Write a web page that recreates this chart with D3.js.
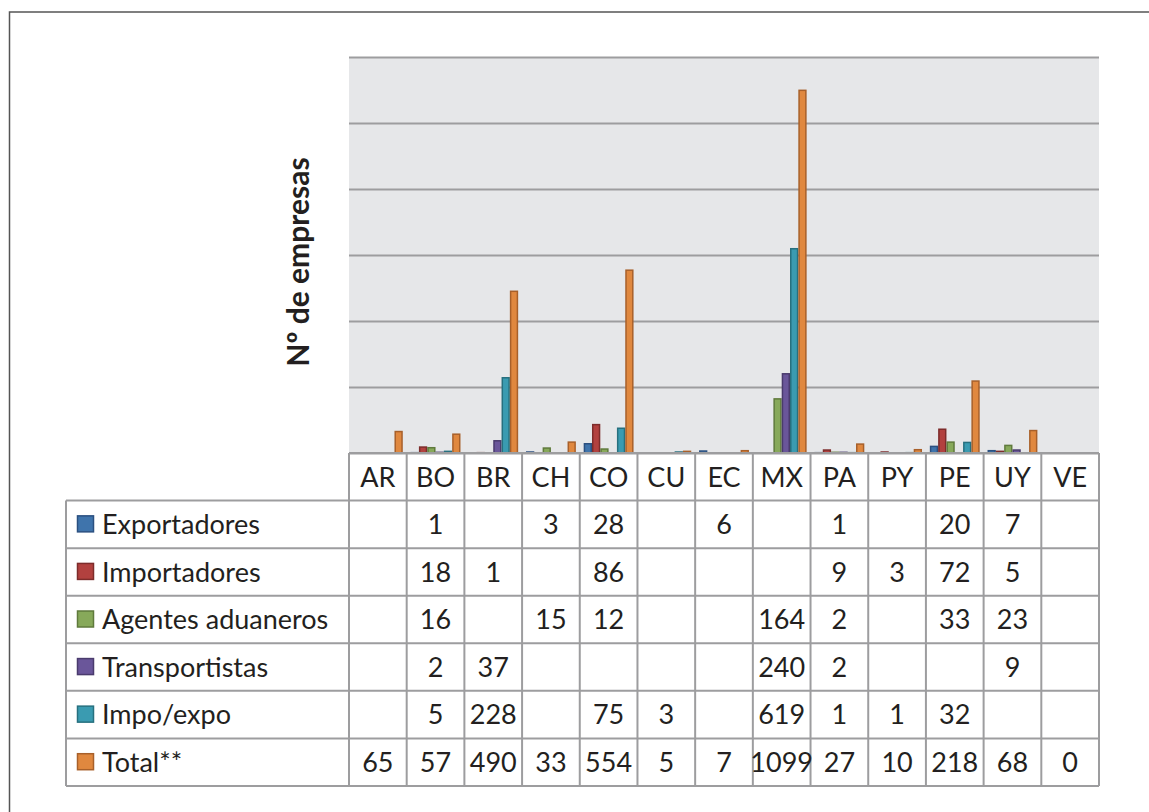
<!DOCTYPE html>
<html lang="es">
    <head>
        <meta charset="utf-8">
        <title>Nº de empresas por país</title>
        <script type="text/javascript" src="https://cdn.jsdelivr.net/npm/d3@7"></script>
        <style type="text/css">
            body { margin: 0; background: #fff; }
            text { font-family: Lato, "Open Sans", sans-serif; fill: #231f20; }
        </style>
    </head>

    <body>
        <script type="text/javascript">
            // Data (null = empty cell)
            var paises = ["AR", "BO", "BR", "CH", "CO", "CU", "EC", "MX", "PA", "PY", "PE", "UY", "VE"];
            var series = ["Exportadores", "Importadores", "Agentes aduaneros", "Transportistas", "Impo/expo", "Total**"];
            var exportadores   = [null, 1, null, 3, 28, null, 6, null, 1, null, 20, 7, null];
            var importadores   = [null, 18, 1, null, 86, null, null, null, 9, 3, 72, 5, null];
            var agentes        = [null, 16, null, 15, 12, null, null, 164, 2, null, 33, 23, null];
            var transportistas = [null, 2, 37, null, null, null, null, 240, 2, null, null, 9, null];
            var impoExpo       = [null, 5, 228, null, 75, 3, null, 619, 1, 1, 32, null, null];
            var total          = [65, 57, 490, 33, 554, 5, 7, 1099, 27, 10, 218, 68, 0];
            var yTicks = [0, 200, 400, 600, 800, 1000, 1200];

            var valores = [exportadores, importadores, agentes, transportistas, impoExpo, total];
            var fills   = ["#3f74ac", "#b2413f", "#87a95a", "#6a569a", "#3a9bb1", "#e0883f"];
            var strokes = ["#2b5080", "#7d2c2b", "#5f7a3c", "#4a3b6d", "#27707f", "#a8602a"];

            var w = 1149;
            var h = 812;
            var plotLeft = 349, plotRight = 1099, plotTop = 57, plotBottom = 453;
            var tableLeft = 66, tableBottom = 786;
            var lineColor = "#9d9d9f";
            var fontSize = "27px";

            var svg = d3.select("body")
                    .append("svg")
                    .attr("width", w)
                    .attr("height", h);

            // outer frame (runs off the right and bottom edges)
            svg.append("rect")
                .attr("x", 9.5).attr("y", 12)
                .attr("width", w + 20).attr("height", h + 20)
                .attr("fill", "none")
                .attr("stroke", "#555")
                .attr("stroke-width", 1.5);

            // Scales
            var x0 = d3.scaleBand()
                        .domain(paises)
                        .range([plotLeft, plotRight]);
            var x1 = d3.scaleBand()
                        .domain(series)
                        .range([0, x0.bandwidth()])
                        .paddingInner(0)
                        .paddingOuter(0.47);
            var y = d3.scaleLinear()
                        .domain([0, 1200])
                        .range([plotBottom, plotTop]);
            var rows = d3.scaleBand()
                        .domain(["header"].concat(series))
                        .range([plotBottom, tableBottom]);

            // plot area background
            svg.append("rect")
                .attr("x", plotLeft).attr("y", plotTop)
                .attr("width", plotRight - plotLeft).attr("height", plotBottom - plotTop)
                .attr("fill", "#e6e7e9");

            // gridlines, no tick labels
            var grid = svg.append("g")
                .attr("transform", "translate(" + plotLeft + ",0)")
                .call(d3.axisLeft(y).tickValues(yTicks).tickSize(-(plotRight - plotLeft)).tickFormat(""));
            grid.select(".domain").remove();
            grid.selectAll("line").attr("stroke", lineColor).attr("stroke-width", 2);

            // bars
            series.forEach(function(s, i) {
                var pts = paises.map(function(p, j) { return { pais: p, v: valores[i][j] }; })
                                .filter(function(d) { return d.v !== null && d.v > 0; });
                svg.append("g")
                    .selectAll("rect")
                    .data(pts)
                    .enter()
                    .append("rect")
                    .attr("x", function(d) { return x0(d.pais) + x1(s) + 0.75; })
                    .attr("y", function(d) { return y(d.v); })
                    .attr("width", x1.bandwidth() - 1.5)
                    .attr("height", function(d) { return y(0) - y(d.v); })
                    .attr("fill", fills[i])
                    .attr("stroke", strokes[i])
                    .attr("stroke-width", 1.5);
            });

            // y title
            svg.append("text")
                .attr("transform", "translate(309,262) rotate(-90)")
                .attr("text-anchor", "middle")
                .attr("font-size", "30px")
                .attr("font-weight", "bold")
                .text("Nº de empresas");

            // data table
            var table = svg.append("g");
            // horizontal lines
            table.selectAll("line.h")
                .data(series.concat(["end"]))
                .enter()
                .append("line")
                .attr("x1", tableLeft).attr("x2", plotRight)
                .attr("y1", function(d) { return d === "end" ? tableBottom : rows(d); })
                .attr("y2", function(d) { return d === "end" ? tableBottom : rows(d); })
                .attr("stroke", lineColor).attr("stroke-width", 2);
            table.append("line")
                .attr("x1", plotLeft).attr("x2", plotRight)
                .attr("y1", plotBottom).attr("y2", plotBottom)
                .attr("stroke", lineColor).attr("stroke-width", 2);
            // vertical lines
            table.selectAll("line.v")
                .data(paises.concat(["end"]))
                .enter()
                .append("line")
                .attr("x1", function(d) { return d === "end" ? plotRight : x0(d); })
                .attr("x2", function(d) { return d === "end" ? plotRight : x0(d); })
                .attr("y1", plotBottom).attr("y2", tableBottom)
                .attr("stroke", lineColor).attr("stroke-width", 2);
            table.append("line")
                .attr("x1", tableLeft).attr("x2", tableLeft)
                .attr("y1", rows(series[0])).attr("y2", tableBottom)
                .attr("stroke", lineColor).attr("stroke-width", 2);

            // country labels
            table.selectAll("text.pais")
                .data(paises)
                .enter()
                .append("text")
                .attr("x", function(d) { return x0(d) + x0.bandwidth() / 2; })
                .attr("y", rows("header") + rows.bandwidth() / 2)
                .attr("dy", "0.36em")
                .attr("text-anchor", "middle")
                .attr("font-size", fontSize)
                .text(function(d) { return d; });

            // legend column + values
            series.forEach(function(s, i) {
                var cy = rows(s) + rows.bandwidth() / 2;
                table.append("rect")
                    .attr("x", 77.5).attr("y", cy - 8.5)
                    .attr("width", 16).attr("height", 16)
                    .attr("fill", fills[i])
                    .attr("stroke", strokes[i])
                    .attr("stroke-width", 1.5);
                table.append("text")
                    .attr("x", 102)
                    .attr("y", cy)
                    .attr("dy", "0.36em")
                    .attr("font-size", fontSize)
                    .text(s);
                table.append("g")
                    .selectAll("text")
                    .data(paises.map(function(p, j) { return { pais: p, v: valores[i][j] }; })
                                .filter(function(d) { return d.v !== null; }))
                    .enter()
                    .append("text")
                    .attr("x", function(d) { return x0(d.pais) + x0.bandwidth() / 2; })
                    .attr("y", cy)
                    .attr("dy", "0.36em")
                    .attr("text-anchor", "middle")
                    .attr("font-size", fontSize)
                    .text(function(d) { return d.v; });
            });
        </script>
    </body>
</html>
